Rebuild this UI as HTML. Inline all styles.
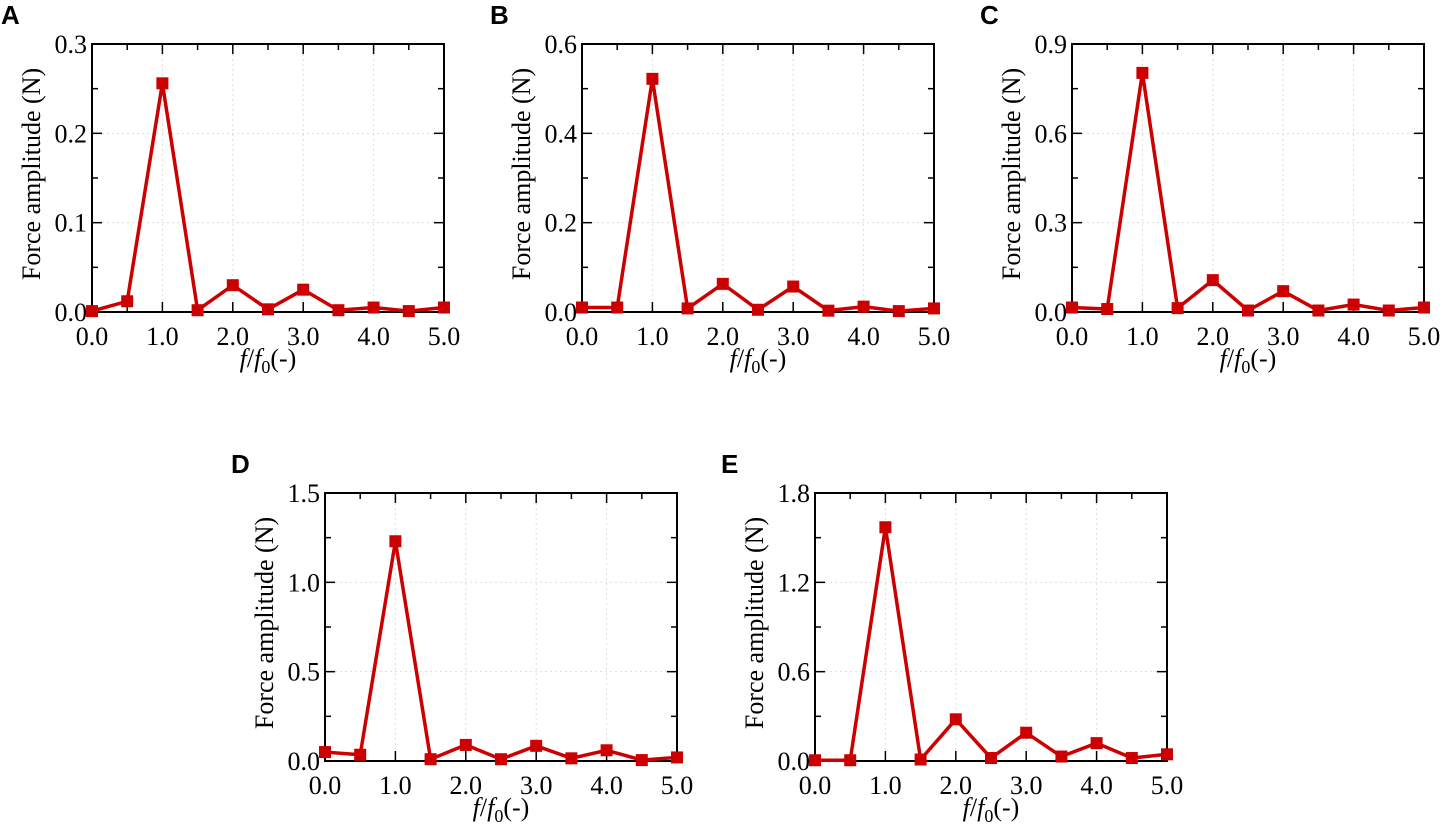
<!DOCTYPE html>
<html><head><meta charset="utf-8"><style>
html,body{margin:0;padding:0;background:#fff;width:1442px;height:825px;overflow:hidden}
svg text{font-family:"Liberation Serif",serif}
</style></head><body>
<svg id="fig" width="1442" height="825" xmlns="http://www.w3.org/2000/svg"></svg>
<script>
const xValues=[0,0.5,1,1.5,2,2.5,3,3.5,4,4.5,5];
const seriesA=[0.001,0.012,0.256,0.002,0.030,0.003,0.025,0.002,0.005,0.001,0.005];
const seriesB=[0.010,0.010,0.522,0.008,0.063,0.005,0.057,0.003,0.012,0.002,0.008];
const seriesC=[0.015,0.010,0.803,0.013,0.107,0.005,0.070,0.005,0.025,0.005,0.015];
const seriesD=[0.050,0.035,1.230,0.010,0.090,0.010,0.085,0.015,0.060,0.005,0.020];
const seriesE=[0.005,0.005,1.570,0.010,0.280,0.020,0.190,0.030,0.120,0.020,0.045];
const yMaxes=[0.3,0.6,0.9,1.5,1.8];
const yTickLabelsA=["0.0","0.1","0.2","0.3"];
const yTickLabelsB=["0.0","0.2","0.4","0.6"];
const yTickLabelsC=["0.0","0.3","0.6","0.9"];
const yTickLabelsD=["0.0","0.5","1.0","1.5"];
const yTickLabelsE=["0.0","0.6","1.2","1.8"];
const xTickLabels=["0.0","1.0","2.0","3.0","4.0","5.0"];
const panelLetters=["A","B","C","D","E"];

const NS="http://www.w3.org/2000/svg";
const svg=document.getElementById('fig');
function mk(tag,attrs,parent){const e=document.createElementNS(NS,tag);for(const k in attrs)e.setAttribute(k,attrs[k]);(parent||svg).appendChild(e);return e;}

const panels=[
 {L:92,T:44,s:seriesA,yl:yTickLabelsA,lx:1,ly:24},
 {L:582,T:44,s:seriesB,yl:yTickLabelsB,lx:490,ly:24},
 {L:1072,T:44,s:seriesC,yl:yTickLabelsC,lx:980,ly:24},
 {L:325,T:493,s:seriesD,yl:yTickLabelsD,lx:231,ly:473},
 {L:815,T:493,s:seriesE,yl:yTickLabelsE,lx:721,ly:473}
];
const W=352,H=268,red="#cc0000";
panels.forEach((p,i)=>{
 const g=mk('g',{});
 
 
 const ymax=yMaxes[i];
 const X=v=>p.L+v/5*W, Y=v=>p.T+H-v/ymax*H;
 const lt=mk('text',{x:p.lx,y:p.ly,'font-size':26,'font-weight':'bold',style:'font-family:"Liberation Sans",sans-serif'},g);
 lt.textContent=panelLetters[i];
 
 
 for(let k=1;k<p.yl.length-1;k++){const yv=ymax*k/(p.yl.length-1);mk('line',{x1:p.L,x2:p.L+W,y1:Y(yv),y2:Y(yv),stroke:'#ddd','stroke-dasharray':'2,3','stroke-width':1},g);}
 for(let k=1;k<5;k++){mk('line',{x1:X(k),x2:X(k),y1:p.T,y2:p.T+H,stroke:'#ddd','stroke-dasharray':'2,3','stroke-width':1},g);}
 const n=p.yl.length-1;
 for(let k=0;k<=2*n;k++){const yv=ymax*k/(2*n),len=k%2?6:10;
  mk('line',{x1:p.L,x2:p.L+len,y1:Y(yv),y2:Y(yv),stroke:'#000','stroke-width':1.5},g);
  mk('line',{x1:p.L+W,x2:p.L+W-len,y1:Y(yv),y2:Y(yv),stroke:'#000','stroke-width':1.5},g);}
 p.yl.forEach((t,k)=>{const e=mk('text',{x:p.L-5,y:Y(ymax*k/n)+9,'text-anchor':'end','font-size':26},g);e.textContent=t;
  });
 xValues.forEach((xv,k)=>{const len=k%2?6:10;
  mk('line',{x1:X(xv),x2:X(xv),y1:p.T+H,y2:p.T+H-len,stroke:'#000','stroke-width':1.5},g);
  mk('line',{x1:X(xv),x2:X(xv),y1:p.T,y2:p.T+len,stroke:'#000','stroke-width':1.5},g);});
 xTickLabels.forEach((t,k)=>{const e=mk('text',{x:X(k),y:p.T+H+33,'text-anchor':'middle','font-size':26},g);e.textContent=t;
  });
 mk('rect',{x:p.L,y:p.T,width:W,height:H,fill:'none',stroke:'#000','stroke-width':2},g);
 const xt=mk('text',{x:p.L+W/2,y:p.T+H+55,'text-anchor':'middle','font-size':26},g);
 xt.innerHTML='<tspan font-style="italic">f</tspan>/<tspan font-style="italic">f</tspan><tspan font-size="18" dy="6">0</tspan><tspan dy="-6">(-)</tspan>';
 
 const cy=p.T+H/2-4;
 const yx=p.L-52;
 const yt=mk('text',{x:yx,y:cy,'text-anchor':'middle','font-size':26,transform:`rotate(-90 ${yx} ${cy})`},g);
 yt.textContent='Force amplitude (N)';
 
 const pts=xValues.map((xv,k)=>X(xv)+','+Y(p.s[k])).join(' ');
 const pl=mk('polyline',{points:pts,fill:'none',stroke:red,'stroke-width':3.5,'stroke-linejoin':'miter'},g);
 
 xValues.forEach((xv,k)=>{const r=mk('rect',{x:X(xv)-6,y:Y(p.s[k])-6,width:12,height:12,fill:red},g);
  });
});
</script>
</body></html>
